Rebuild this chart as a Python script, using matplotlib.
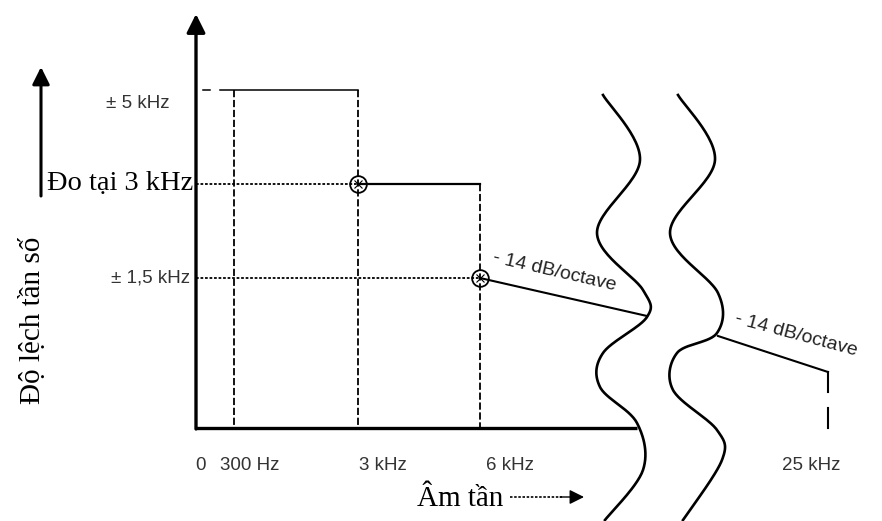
import numpy as np
from matplotlib import pyplot as plt

# diagram units = pixel positions of the schematic (x right, y down)
x_origin, y_origin = 196, 428
tick_x = [196, 234, 358, 480, 828]
tick_labels = ["0", "300 Hz", "3 kHz", "6 kHz", "25 kHz"]
tick_label_x = [200, 250, 383, 510, 811]
level_y = [90, 184, 278]
level_labels = ["± 5 kHz", "Đo tại 3 kHz", "± 1,5 kHz"]

slope1 = ([480, 647], [278, 316])
slope2 = ([718, 828], [336, 372])

wave_left_x = [603, 640, 597, 643, 647, 603, 600, 637, 643, 605]
wave_left_y = [95, 160, 233, 290, 317, 353, 387, 423, 470, 520]
wave_right_x = [678, 715, 670, 718, 717, 677, 673, 717, 722, 683]
wave_right_y = [95, 160, 233, 293, 333, 353, 390, 430, 460, 520]


def catmull(xs, ys, n=30):
    p = np.column_stack([xs, ys]).astype(float)
    p = np.vstack([p[0], p, p[-1]])
    out = []
    for i in range(1, len(p) - 2):
        p0, p1, p2, p3 = p[i - 1], p[i], p[i + 1], p[i + 2]
        t = np.linspace(0, 1, n)[:, None]
        out.append(0.5 * ((2 * p1) + (-p0 + p2) * t + (2 * p0 - 5 * p1 + 4 * p2 - p3) * t**2
                          + (-p0 + 3 * p1 - 3 * p2 + p3) * t**3))
    out = np.vstack(out)
    return out[:, 0], out[:, 1]


fig = plt.figure(figsize=(8.82, 5.21), dpi=100)
ax = fig.add_axes([0, 0, 1, 1])
ax.set_xlim(0, 882)
ax.set_ylim(521, 0)
ax.axis("off")

k = "black"
arrow = dict(arrowstyle="-|>", lw=2.4, color=k, mutation_scale=28, shrinkA=0, shrinkB=0)

# main axes
ax.annotate("", xy=(x_origin, 14), xytext=(x_origin, y_origin + 1), arrowprops=arrow)
ax.plot([x_origin, 637], [y_origin, y_origin], color=k, lw=2.4, solid_capstyle="butt")
ax.annotate("", xy=(884, y_origin), xytext=(720, y_origin), arrowprops=arrow)

# side arrow for y label
ax.annotate("", xy=(41, 67), xytext=(41, 196), arrowprops=dict(arrow, lw=2.2, mutation_scale=26))
ax.text(33, 320, "Độ lệch tần số", rotation=90, ha="center", va="center",
        family="Liberation Serif", fontsize=21)

# +/- 5 kHz box
ax.plot([203, 210], [level_y[0], level_y[0]], color=k, lw=1.1)
ax.plot([220, tick_x[2]], [level_y[0], level_y[0]], color=k, lw=1.1)
for x in tick_x[1:3]:
    ax.plot([x, x], [level_y[0], y_origin], color=k, lw=1.3, dashes=(4, 1.5))

# 3 kHz measuring level
ax.plot([x_origin, tick_x[2]], [level_y[1], level_y[1]], color=k, lw=1.3, dashes=(1.5, 1))
ax.plot([tick_x[2], tick_x[3]], [level_y[1], level_y[1]], color=k, lw=1.6)
ax.plot([tick_x[3], tick_x[3]], [level_y[1], y_origin], color=k, lw=1.3, dashes=(4, 1.5))

# 1.5 kHz level
ax.plot([x_origin, tick_x[3]], [level_y[2], level_y[2]], color=k, lw=1.3, dashes=(1.5, 1))

# circled measuring points
for x, y in [(tick_x[2], level_y[1]), (tick_x[3], level_y[2])]:
    ax.plot(x, y, marker="o", ms=12, mfc="none", mec=k, mew=1.3)
    ax.plot(x, y, marker="x", ms=6, mec=k, mew=0.8)

# -14 dB/octave slopes
ax.plot(*slope1, color=k, lw=1.5)
ax.plot(*slope2, color=k, lw=1.5)
ax.plot([828, 828], [372, 392], color=k, lw=1.5)
ax.plot([828, 828], [408, y_origin], color=k, lw=1.5)
ax.text(554, 272, "- 14 dB/octave", rotation=-13, ha="center", va="center",
        family="Liberation Sans", fontsize=14, color="#222222")
ax.text(796, 335, "- 14 dB/octave", rotation=-15, ha="center", va="center",
        family="Liberation Sans", fontsize=14, color="#222222")

# axis break waves
for wx, wy in [(wave_left_x, wave_left_y), (wave_right_x, wave_right_y)]:
    cx, cy = catmull(wx, wy)
    ax.plot(cx, cy, color=k, lw=1.9)

# level labels
sans = "Liberation Sans"
ax.text(170, 103, level_labels[0], ha="right", va="center", family=sans, fontsize=13.5, color="#333333")
ax.text(193, level_y[1], level_labels[1], ha="right", va="center", family="Liberation Serif", fontsize=20.5)
ax.text(190, level_y[2], level_labels[2], ha="right", va="center", family=sans, fontsize=13.5, color="#333333")

# tick labels
for x, lab in zip(tick_label_x, tick_labels):
    ax.text(x, 466, lab, ha="center", va="center", family=sans, fontsize=13.5, color="#333333")

# x label with dotted arrow
ax.text(460, 499, "Âm tần", ha="center", va="center", family="Liberation Serif", fontsize=21)
ax.plot([510, 562], [497, 497], color=k, lw=1.2, dashes=(1.5, 1))
ax.annotate("", xy=(584, 497), xytext=(560, 497),
            arrowprops=dict(arrowstyle="-|>", lw=1.0, color=k, mutation_scale=22, shrinkA=0, shrinkB=0))

fig.savefig("out.png", dpi=100)
